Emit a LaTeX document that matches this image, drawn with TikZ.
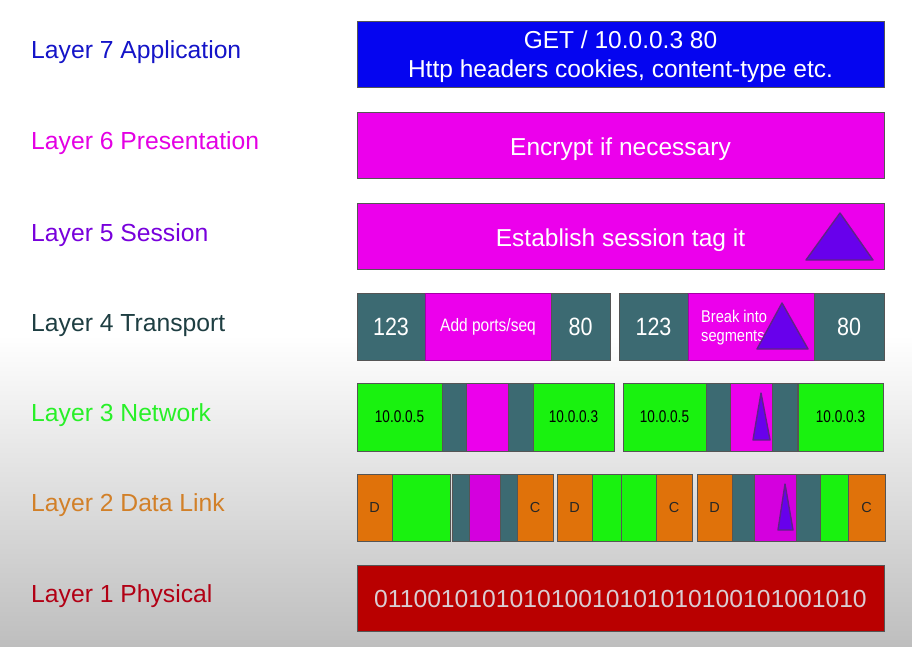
\documentclass[tikz,border=0pt]{standalone}
\usepackage{fontspec}
\setmainfont{Liberation Sans}
\newfontfamily\narrowfont[FakeStretch=0.86]{Liberation Sans}
\newfontfamily\narrowerfont[FakeStretch=0.8]{Liberation Sans}
\definecolor{cBlue}{RGB}{5,5,240}
\definecolor{cMag}{RGB}{236,0,236}
\definecolor{cMagB}{RGB}{212,0,222}
\definecolor{cTeal}{RGB}{60,106,114}
\definecolor{cGreen}{RGB}{25,242,15}
\definecolor{cOrange}{RGB}{224,114,10}
\definecolor{cRed}{RGB}{185,0,0}
\definecolor{cPurple}{RGB}{104,0,236}
\definecolor{cPurpleB}{RGB}{95,35,135}
\definecolor{cBorder}{RGB}{85,85,85}
\definecolor{bgGray}{RGB}{190,190,190}
\definecolor{lSeven}{RGB}{20,20,200}
\definecolor{lSix}{RGB}{228,0,228}
\definecolor{lFive}{RGB}{120,0,220}
\definecolor{lFour}{RGB}{30,62,66}
\definecolor{lThree}{RGB}{40,240,40}
\definecolor{lTwo}{RGB}{210,128,40}
\definecolor{lOne}{RGB}{178,0,20}
\definecolor{binText}{RGB}{218,205,210}
\tikzset{
  cellbox/.style={draw=cBorder, line width=0.9pt, inner sep=0pt, outer sep=0pt},
  lbl/.style={anchor=base west, inner sep=0pt, font=\fontsize{24.7}{28}\selectfont},
  bigtxt/.style={text=white, font=\fontsize{24.5}{29}\selectfont},
  smalltxt/.style={text=white, font=\narrowfont\fontsize{18}{20}\selectfont},
  iptxt/.style={text=black, font=\narrowerfont\fontsize{17}{20}\selectfont},
  dctxt/.style={text=black!85, font=\fontsize{14.5}{16}\selectfont},
  numtxt/.style={text=white, font=\narrowfont\fontsize{25}{28}\selectfont},
  tri/.style={fill=cPurple, draw=cPurpleB, line width=1.4pt, line join=round},
}
% \cell[text options]{x1}{y1}{x2}{y2}{fill}{name}{text}
\newcommand\cell[8][]{\node[cellbox, fill=#6, minimum width={#4-#2}, minimum height={#5-#3}] (#7) at ({(#2+#4)/2},{(#3+#5)/2}) {};
  \node[inner sep=0pt, #1] (#7t) at (#7.center) {#8};}
\begin{document}
\begin{tikzpicture}[x=1pt,y=-1pt]
\useasboundingbox (0,0) rectangle (912,647);
\fill[white] (0,0) rectangle (912,647);
\shade[top color=white, bottom color=bgGray] (0,335) rectangle (912,647);

% labels
\node[lbl, text=lSeven] (l7) at (31,59) {Layer 7 Application};
\node[lbl, text=lSix] (l6) at (31,150) {Layer 6 Presentation};
\node[lbl, text=lFive] (l5) at (31,241) {Layer 5 Session};
\node[lbl, text=lFour] (l4) at (31,331) {Layer 4 Transport};
\node[lbl, text=lThree] (l3) at (31,421) {Layer 3 Network};
\node[lbl, text=lTwo] (l2) at (31,511) {Layer 2 Data Link};
\node[lbl, text=lOne] (l1) at (31,602) {Layer 1 Physical};

% layer 7
\cell[bigtxt, align=center, yshift=-3pt]{357}{21}{884}{87}{cBlue}{app}{GET / 10.0.0.3 80\\Http headers cookies, content-type etc.}
% layer 6
\cell[bigtxt, yshift=-4pt]{357}{112}{884}{178}{cMag}{pres}{Encrypt if necessary}
% layer 5
\cell[bigtxt, yshift=-4pt]{357}{203}{884}{269}{cMag}{sess}{Establish session tag it}
\draw[tri] (840,213) -- (873,260) -- (806,260) -- cycle;

% layer 4 left
\cell[numtxt]{357}{293}{425}{360}{cTeal}{tAa}{123}
\node[cellbox, fill=cMag, draw=cMag!70!black, minimum width=126, minimum height=67] (tAb) at (488,326.5) {};
\node[smalltxt, inner sep=0pt] (tAbt) at (tAb.center) {Add ports/seq};
\cell[numtxt]{551}{293}{610}{360}{cTeal}{tAc}{80}
% layer 4 right
\cell[numtxt]{619}{293}{688}{360}{cTeal}{tBa}{123}
\node[cellbox, fill=cMag, draw=cMag!70!black, minimum width=126, minimum height=67] (tBb) at (751,326.5) {};
\cell[numtxt]{814}{293}{884}{360}{cTeal}{tBc}{80}
\node[smalltxt, anchor=west, align=left, inner sep=0pt, font=\narrowfont\fontsize{17}{19}\selectfont] (brk) at (701,328) {Break into\\segments};
\draw[tri] (782,303) -- (808,349) -- (757,349) -- cycle;

% layer 3 left
\cell[iptxt]{357}{383}{442}{451}{cGreen}{nAa}{10.0.0.5}
\cell{442}{383}{466}{451}{cTeal}{nAb}{}
\cell{466}{383}{508}{451}{cMag}{nAc}{}
\cell{508}{383}{533}{451}{cTeal}{nAd}{}
\cell[iptxt]{533}{383}{614}{451}{cGreen}{nAe}{10.0.0.3}
% layer 3 right
\cell[iptxt]{623}{383}{706}{451}{cGreen}{nBa}{10.0.0.5}
\cell{706}{383}{730}{451}{cTeal}{nBb}{}
\cell{730}{383}{772}{451}{cMag}{nBc}{}
\cell{772}{383}{797}{451}{cTeal}{nBd}{}
\cell[iptxt]{798}{383}{883}{451}{cGreen}{nBe}{10.0.0.3}
\draw[tri] (761,393) -- (770,440) -- (753,440) -- cycle;

% layer 2 group 1
\cell[dctxt]{357}{474}{392}{541}{cOrange}{dAa}{D}
\cell{392}{474}{450}{541}{cGreen}{dAb}{}
\cell{452}{474}{469}{541}{cTeal}{dAc}{}
\cell{469}{474}{500}{541}{cMagB}{dAd}{}
\cell{500}{474}{517}{541}{cTeal}{dAe}{}
\cell[dctxt]{517}{474}{553}{541}{cOrange}{dAf}{C}
% group 2
\cell[dctxt]{557}{474}{592}{541}{cOrange}{dBa}{D}
\cell{592}{474}{621}{541}{cGreen}{dBb}{}
\cell{621}{474}{656}{541}{cGreen}{dBc}{}
\cell[dctxt]{656}{474}{692}{541}{cOrange}{dBd}{C}
% group 3
\cell[dctxt]{697}{474}{732}{541}{cOrange}{dCa}{D}
\cell{732}{474}{754}{541}{cTeal}{dCb}{}
\cell{754}{474}{796}{541}{cMagB}{dCc}{}
\cell{796}{474}{820}{541}{cTeal}{dCd}{}
\cell{820}{474}{848}{541}{cGreen}{dCe}{}
\cell[dctxt]{848}{474}{885}{541}{cOrange}{dCf}{C}
\draw[tri] (785,484) -- (793,530) -- (778,530) -- cycle;

% layer 1
\cell[text=binText, font=\fontsize{24.7}{28}\selectfont, yshift=-1pt]{357}{565}{884}{631}{cRed}{phys}{011001010101010010101010100101001010}
\end{tikzpicture}
\end{document}
